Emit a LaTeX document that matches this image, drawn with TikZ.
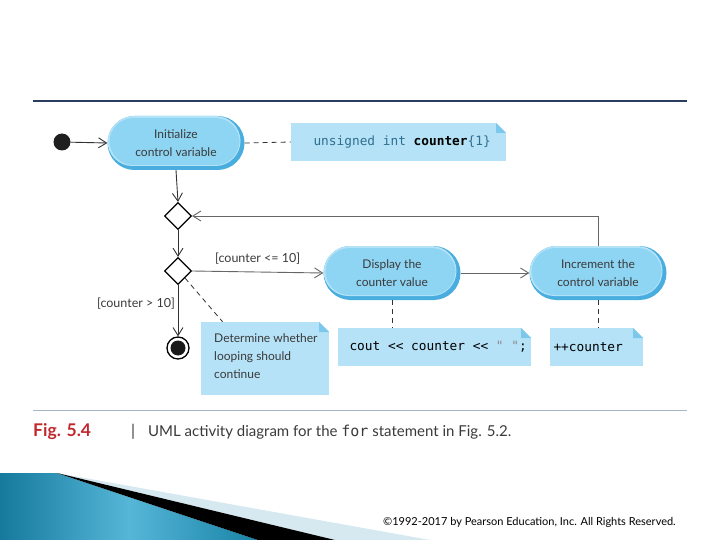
\documentclass[tikz,border=0pt]{standalone}
\usepackage{fontspec}
\setmainfont{Lato}
\setmonofont{DejaVu Sans Mono}
\usetikzlibrary{shapes.geometric,arrows.meta,calc}
\definecolor{pillrim}{HTML}{49AEDF}
\definecolor{pillfill}{HTML}{8ED4F3}
\definecolor{pilllight}{HTML}{B4E3F8}
\definecolor{notefill}{HTML}{B5E2F7}
\definecolor{notefold}{HTML}{7CC7EC}
\definecolor{codeteal}{HTML}{2F6F8F}
\definecolor{figred}{HTML}{C0282D}
\definecolor{topline}{HTML}{2B3D5E}
\definecolor{capline}{HTML}{A8B4C8}
\definecolor{txtgray}{HTML}{3A3A3A}
\definecolor{decoA}{HTML}{157A9C}
\definecolor{decoB}{HTML}{1883A6}
\definecolor{decoM}{HTML}{56B6D8}
\definecolor{decoL}{HTML}{D6E8F0}
\begin{document}
\begin{tikzpicture}[x=1pt,y=-1pt,
  pill/.style={rectangle, rounded corners=27pt, minimum width=137pt, minimum height=54pt,
    fill=pillrim, align=center, font=\fontsize{12}{18}\selectfont, text=txtgray,
    path picture={
      \fill[pilllight, rounded corners=25pt] ($(path picture bounding box.south west)+(0pt,4pt)$) rectangle ($(path picture bounding box.north east)+(-4pt,0pt)$);
      \fill[pillfill, rounded corners=24pt] ($(path picture bounding box.south west)+(2pt,5pt)$) rectangle ($(path picture bounding box.north east)+(-5pt,-2pt)$);
    }},
  notebox/.style={rectangle, fill=notefill, inner sep=0pt,
    path picture={
      \fill[white] (path picture bounding box.north east) -- ++(-10pt,0pt) -- ++(10pt,-10pt) -- cycle;
      \fill[notefold] ($(path picture bounding box.north east)+(-10pt,0pt)$) -- ++(0pt,-10pt) -- ++(10pt,0pt) -- cycle;
    }},
  decision/.style={diamond, draw=black, fill=white, line width=1.1pt, minimum width=27pt, minimum height=27pt, inner sep=0pt, aspect=1},
  flow/.style={draw=black!80, line width=0.9pt, -{Straight Barb[length=8pt,width=10pt,line width=0.9pt]}},
  gflow/.style={draw=black!60, line width=0.9pt, -{Straight Barb[length=8pt,width=10pt,line width=0.9pt]}},
  dashline/.style={draw=black!80, line width=0.8pt, dash pattern=on 5pt off 4pt},
  lbl/.style={font=\fontsize{12.5}{14}\selectfont, text=txtgray, inner sep=0pt},
  codetxt/.style={font=\ttfamily\fontsize{12.8}{14}\selectfont}
]
\useasboundingbox (0,0) rectangle (720,540);

% rules
\draw[topline, line width=1.1pt] (33,101) -- (687,101);
\draw[capline, line width=1pt] (33,410) -- (687,410);

% nodes
\node[circle, fill=black!88, minimum size=17pt, inner sep=0pt] (start) at (62,142) {};
\node[pill] (init) at (176,143) {Initialize\\control variable};
\node[notebox, minimum width=215pt, minimum height=38pt] (n1) at (398.5,142) {};
\node[codetxt, anchor=west] (n1t) at (310,142) {\color{codeteal}unsigned int \color{black}\bfseries counter\mdseries\color{codeteal}\{1\}};

\node[decision] (d1) at (178,216) {};
\node[decision] (d2) at (178,271) {};

\node[pill] (disp) at (392,273) {Display the\\counter value};
\node[pill] (inc) at (598,273) {Increment the\\control variable};

\node[circle, draw=black, line width=1.3pt, fill=white, minimum size=22pt, inner sep=0pt] (final) at (178,348) {};
\node[circle, fill=black!90, minimum size=15pt, inner sep=0pt] (finalin) at (final) {};

\node[notebox, minimum width=128pt, minimum height=73pt] (n3) at (265,358.5) {};
\node[anchor=north west, align=left, font=\fontsize{12}{18}\selectfont, text=txtgray, inner sep=0pt] (n3t) at (214,333) {Determine whether\\looping should\\continue};

\node[notebox, minimum width=193pt, minimum height=38pt] (n2) at (434.5,347) {};
\node[codetxt, anchor=west] (n2t) at (346,347) {cout << counter << {\color{black!45}" "};};

\node[notebox, minimum width=93pt, minimum height=38pt] (n4) at (596.5,347) {};
\node[codetxt, anchor=west] (n4t) at (550,347) {++counter};

% connectors
\draw[flow] (start) -- (init.west);
\draw[dashline] (init.east) -- (n1.west);
\draw[flow] (init.south) -- (d1.north);
\draw[gflow] (inc.north) |- (d1.east);
\draw[flow] (d1.south) -- (d2.north);
\draw[gflow] (d2.east) -- node[lbl, above=7pt] (lt) {[counter <= 10]} (disp.west);
\draw[gflow] (disp.east) -- (inc.west);
\draw[flow] (d2.south) -- (final.north);
\node[lbl] (lf) at (136,304) {[counter > 10]};
\draw[dashline] (d2.south east) -- ($(n3.north west)!0.17!(n3.north east)$);
\draw[dashline] (disp.south) -- (disp.south |- n2.north);
\draw[dashline] (inc.south) -- (inc.south |- n4.north);

% caption
\node[anchor=base west, inner sep=0pt, font=\fontsize{17.5}{19}\selectfont\bfseries, text=figred] (figno) at (33,436) {Fig. 5.4};
\node[anchor=base west, inner sep=0pt, font=\fontsize{16}{17}\selectfont, text=txtgray] (bar) at (131,436) {|};
\node[anchor=base west, inner sep=0pt, font=\fontsize{15}{17}\selectfont, text=txtgray] (cap) at (148,436) {UML activity diagram for the {\ttfamily for} statement in Fig. 5.2.};

% decoration
\shade[left color=decoA, right color=decoB, middle color=decoM] (0,473) -- (57,473) -- (258,540) -- (0,540) -- cycle;
\fill[decoL] (57,473) -- (430,540) -- (335,540) -- cycle;
\fill[black] (57,473) -- (335,540) -- (258,540) -- cycle;

\node[anchor=base west, inner sep=0pt, font=\fontsize{11}{12}\selectfont, text=black] (copy) at (383,525) {©1992-2017 by Pearson Education, Inc. All Rights Reserved.};
\end{tikzpicture}
\end{document}
